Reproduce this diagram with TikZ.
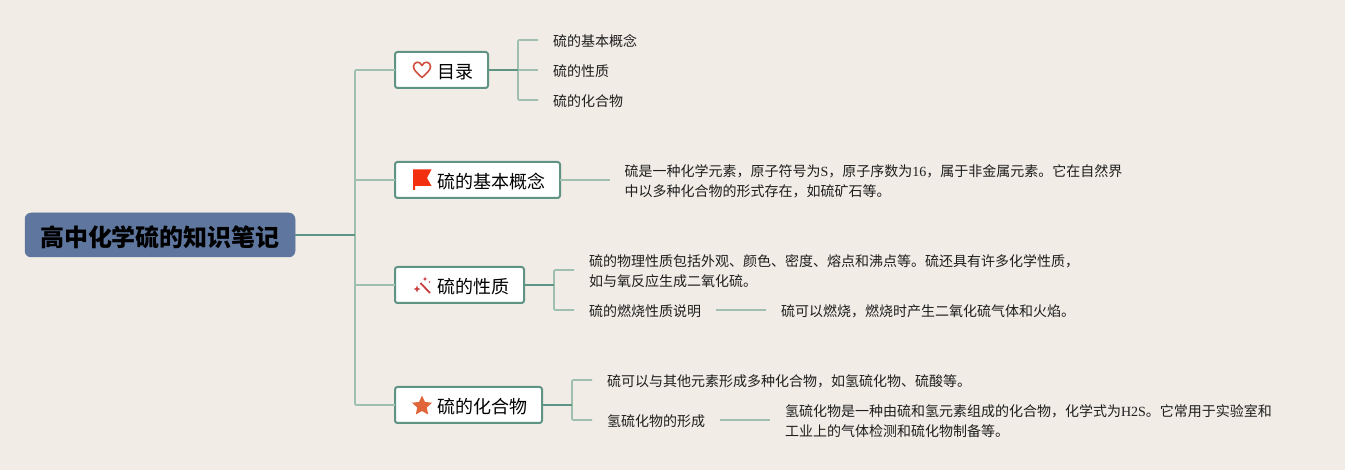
\documentclass[tikz,border=0pt]{standalone}
\usepackage{fontspec}
\setmainfont{Noto Sans CJK SC}
\newfontfamily\lat{Liberation Serif}
\usetikzlibrary{shapes.geometric}
\definecolor{bgc}{HTML}{F1ECE6}
\definecolor{dark}{HTML}{5F9383}
\definecolor{lite}{HTML}{9FBFAF}
\definecolor{rootc}{HTML}{5F779F}
\definecolor{txt}{HTML}{1E1E1E}
\definecolor{heartc}{HTML}{D0503F}
\definecolor{flagc}{HTML}{F2300F}
\definecolor{wandc}{HTML}{C93A3A}
\definecolor{starc}{HTML}{E0653A}
\tikzset{
  x=1pt,y=-1pt,
  rootbox/.style={fill=rootc,draw=rootc,line width=0.5pt,rounded corners=6pt,outer sep=0pt,inner xsep=0pt,inner ysep=0pt,minimum width=270pt,minimum height=44pt,anchor=west,font=\fontsize{24}{28}\selectfont\bfseries,text=black,execute at begin node={\rule{0pt}{24.5pt}}},
  topicbox/.style={draw=dark,line width=2pt,fill=white,rounded corners=2.5pt,outer sep=0pt,inner xsep=0pt,inner ysep=0pt,minimum height=36pt,anchor=west,font=\fontsize{18}{22}\selectfont,text=black,execute at begin node={\rule{0pt}{18.4pt}}},
  leaf/.style={inner xsep=15pt,inner ysep=0pt,outer sep=0pt,anchor=west,align=left,font=\fontsize{14}{20}\selectfont,text=txt,execute at begin node={\rule{0pt}{14.3pt}}},
  main/.style={draw=dark,line width=1.6pt},
  sub/.style={draw=lite,line width=1.6pt,rounded corners=1pt}
}
\newcommand{\topic}[1]{\hspace*{42pt}#1\hspace*{15pt}}
\newcommand{\firstln}{\rule{0pt}{14.6pt}}
\begin{document}
\begin{tikzpicture}
\useasboundingbox[fill=bgc] (0,0) rectangle (1345,470);
\node[rootbox] (root) at (25,235) {高中化学硫的知识笔记};
\coordinate (tr) at (355,235);
\node[topicbox] (t1) at (395,70) {\topic{目录}};
\node[topicbox] (t2) at (395,180) {\topic{硫的基本概念}};
\node[topicbox] (t3) at (395,285) {\topic{硫的性质}};
\node[topicbox] (t4) at (395,405) {\topic{硫的化合物}};
% leaves
\node[leaf] (a1) at (538,40) {硫的基本概念};
\node[leaf] (a2) at (538,70) {硫的性质};
\node[leaf] (a3) at (538,100) {硫的化合物};
\node[leaf] (b1) at (609.5,180) {\firstln 硫是一种化学元素，原子符号为{\lat S}，原子序数为{\lat 16}，属于非金属元素。它在自然界\\中以多种化合物的形式存在，如硫矿石等。};
\node[leaf] (c1) at (574,270) {\firstln 硫的物理性质包括外观、颜色、密度、熔点和沸点等。硫还具有许多化学性质，\\如与氧反应生成二氧化硫。};
\node[leaf] (c2) at (574,310) {硫的燃烧性质说明};
\node[leaf] (c3) at (766,310) {硫可以燃烧，燃烧时产生二氧化硫气体和火焰。};
\node[leaf] (d1) at (592,380) {硫可以与其他元素形成多种化合物，如氢硫化物、硫酸等。};
\node[leaf] (d2) at (592,420) {氢硫化物的形成};
\node[leaf] (d3) at (770,420) {\firstln 氢硫化物是一种由硫和氢元素组成的化合物，化学式为{\lat H2S}。它常用于实验室和\\工业上的气体检测和硫化物制备等。};
% junctions
\coordinate (ja) at (518,70);
\coordinate (jc) at (554,285);
\coordinate (jd) at (572,405);
% connectors
\draw[sub] (t1.west) -| (tr);
\draw[sub] (t2.west) -| (tr);
\draw[sub] (t3.west) -| (tr);
\draw[sub] (t4.west) -| (tr);
\draw[sub] (a1.west) -| (ja);
\draw[sub] (a2.west) -- (ja);
\draw[sub] (a3.west) -| (ja);
\draw[sub] (b1.west) -- (t2.east);
\draw[sub] (c1.west) -| (jc);
\draw[sub] (c2.west) -| (jc);
\draw[sub] (c2.east) -- (c3.west);
\draw[sub] (d1.west) -| (jd);
\draw[sub] (d2.west) -| (jd);
\draw[sub] (d2.east) -- (d3.west);
\draw[main] (root.east) -- (tr);
\draw[main] (t1.east) -- (ja);
\draw[main] (t3.east) -- (jc);
\draw[main] (t4.east) -- (jd);
% heart icon
\draw[draw=heartc,line width=1.6pt,line join=round,fill=none]
  (422,77.5) .. controls (417,73) and (413.5,70) .. (413.5,66.5)
  .. controls (413.5,61.5) and (420,60.5) .. (422,65.5)
  .. controls (424,60.5) and (430.5,61.5) .. (430.5,66.5)
  .. controls (430.5,70) and (427,73) .. (422,77.5) -- cycle;
% flag icon
\fill[flagc] (413,169.5) -- (431.5,169.5) -- (427,178) -- (431.5,186) -- (415,186) -- (415,190) -- (413,190) -- cycle;
% wand icon
\draw[draw=wandc,line width=1.8pt] (420.5,283) -- (430,293);
\fill[wandc] (417,285.5) -- (417.9,288.1) -- (420.5,289) -- (417.9,289.9) -- (417,292.5) -- (416.1,289.9) -- (413.5,289) -- (416.1,288.1) -- cycle;
\fill[wandc] (425,276.5) -- (425.6,278.4) -- (427.5,279) -- (425.6,279.6) -- (425,281.5) -- (424.4,279.6) -- (422.5,279) -- (424.4,278.4) -- cycle;
\fill[wandc] (429.5,282) circle (0.8);
% star icon
\node[star,star points=5,star point ratio=2.1,fill=starc,draw=none,minimum size=21pt,inner sep=0pt,outer sep=0pt] (st) at (422,406) {};
\end{tikzpicture}
\end{document}
